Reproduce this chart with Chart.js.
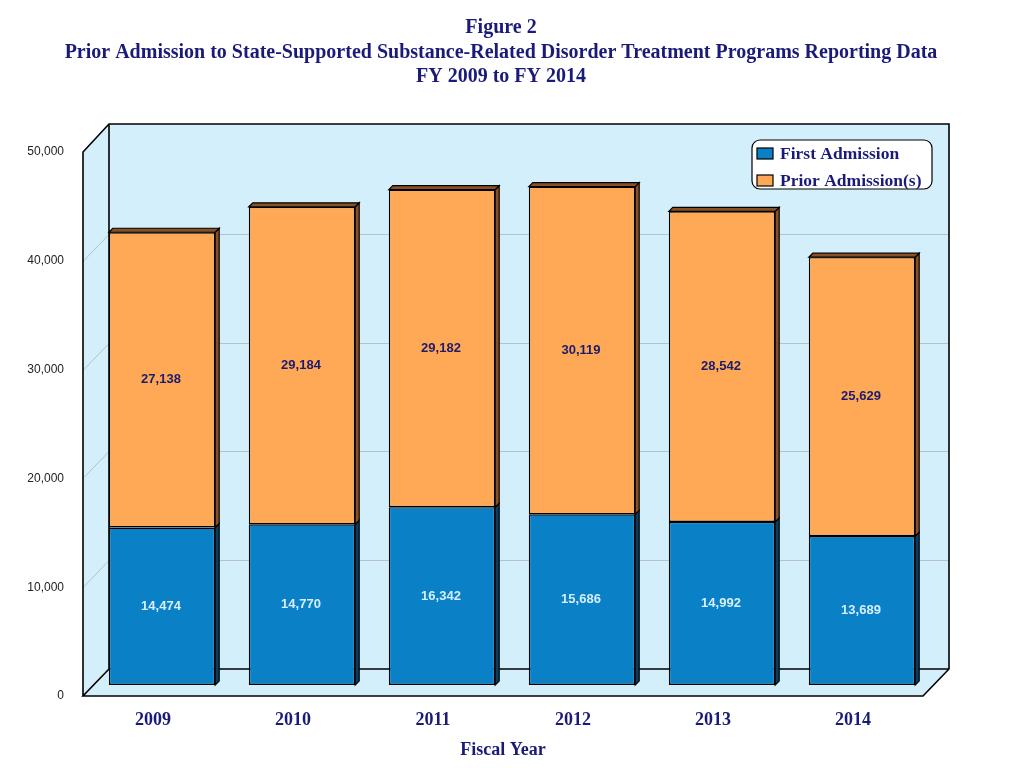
<!DOCTYPE html>
<html>
<head>
<meta charset="utf-8">
<script src="https://cdn.jsdelivr.net/npm/chart.js@4"></script>
<style>
html,body{margin:0;padding:0;background:#fff;}
#wrap{width:1024px;height:768px;}
</style>
</head>
<body>
<div id="wrap"><canvas id="c" width="1024" height="768"></canvas></div>
<script>
const categories = ['2009', '2010', '2011', '2012', '2013', '2014'];
const firstAdmission = [14474, 14770, 16342, 15686, 14992, 13689];
const priorAdmissions = [27138, 29184, 29182, 30119, 28542, 25629];
const seriesNames = ['First Admission', 'Prior Admission(s)'];
const titleLines = ['Figure 2', 'Prior Admission to State-Supported Substance-Related Disorder Treatment Programs Reporting Data', 'FY 2009 to FY 2014'];
const xTitle = 'Fiscal Year';

const NAVY = '#1a1a78';
const WALL = '#d4effc';
const BLUE = '#0a80c6';
const ORANGE = '#ffa855';
const SIDE = ['#0b3d5e', '#8a5024'];
const LABEL_COL = ['#d6eeff', '#1c1c6e'];
const DX = 26, DY = -27;       // depth of the 3-D box
const BX = 9, BY = -11;        // offset of the bar plane
const BD = 4;                  // depth of bars

const box3d = {
  id: 'box3d',
  beforeDatasetsDraw(chart) {
    const {ctx, chartArea: {left, right, top, bottom}, scales: {y}} = chart;
    ctx.save();
    ctx.fillStyle = WALL;
    ctx.beginPath();
    ctx.moveTo(left, top);
    ctx.lineTo(left + DX, top + DY - 1);
    ctx.lineTo(right + DX, top + DY - 1);
    ctx.lineTo(right + DX, bottom + DY);
    ctx.lineTo(right, bottom);
    ctx.lineTo(left, bottom);
    ctx.closePath();
    ctx.fill();
    ctx.strokeStyle = '#b4c2ca';
    ctx.lineWidth = 1;
    y.ticks.forEach(t => {
      if (t.value <= 0 || t.value >= 50000) return;
      const py = Math.round(y.getPixelForValue(t.value)) + 0.5;
      ctx.beginPath();
      ctx.moveTo(left, py);
      ctx.lineTo(left + DX, py + DY);
      ctx.lineTo(right + DX, py + DY);
      ctx.stroke();
    });
    ctx.strokeStyle = '#000';
    ctx.lineWidth = 1.6;
    ctx.beginPath();
    ctx.moveTo(left, bottom); ctx.lineTo(left, top); ctx.lineTo(left + DX, top + DY - 1);
    ctx.lineTo(right + DX, top + DY - 1); ctx.lineTo(right + DX, bottom + DY);
    ctx.lineTo(right, bottom); ctx.lineTo(left, bottom); ctx.lineTo(left + DX, bottom + DY);
    ctx.lineTo(right + DX, bottom + DY);
    ctx.moveTo(left + DX, bottom + DY); ctx.lineTo(left + DX, top + DY - 1);
    ctx.stroke();
    ctx.restore();
    ctx.save();
    ctx.translate(BX, BY);
  },
  afterDatasetsDraw(chart) {
    const ctx = chart.ctx;
    ctx.restore();
    ctx.save();
    const metas = chart.data.datasets.map((d, i) => chart.getDatasetMeta(i));
    metas.forEach((meta, di) => {
      meta.data.forEach(el => {
        const p = el.getProps(['x', 'y', 'base', 'width'], true);
        const x0 = p.x - p.width / 2 + BX, x1 = p.x + p.width / 2 + BX;
        const t = Math.min(p.y, p.base) + BY, b = Math.max(p.y, p.base) + BY;
        ctx.lineWidth = 1.2;
        ctx.strokeStyle = '#000';
        ctx.fillStyle = SIDE[di];
        ctx.beginPath();
        ctx.moveTo(x1, t); ctx.lineTo(x1 + BD, t - BD); ctx.lineTo(x1 + BD, b - BD); ctx.lineTo(x1, b);
        ctx.closePath(); ctx.fill(); ctx.stroke();
        if (di === metas.length - 1) {
          ctx.beginPath();
          ctx.moveTo(x0, t); ctx.lineTo(x0 + BD, t - BD); ctx.lineTo(x1 + BD, t - BD); ctx.lineTo(x1, t);
          ctx.closePath(); ctx.fill(); ctx.stroke();
        }
      });
    });
    ctx.font = 'bold 13px "Liberation Sans", Arial, sans-serif';
    ctx.textAlign = 'center';
    ctx.textBaseline = 'middle';
    metas.forEach((meta, di) => {
      const vals = chart.data.datasets[di].data;
      meta.data.forEach((el, i) => {
        const p = el.getProps(['x', 'y', 'base'], true);
        ctx.fillStyle = LABEL_COL[di];
        ctx.fillText(vals[i].toLocaleString('en-US'), p.x + BX - 1, (p.y + p.base) / 2 + BY);
      });
    });
    // legend
    const lx = 752, ly = 140, lw = 180, lh = 49;
    ctx.fillStyle = '#fff';
    ctx.strokeStyle = '#000';
    ctx.lineWidth = 1.2;
    ctx.beginPath();
    ctx.roundRect(lx, ly, lw, lh, 8);
    ctx.fill(); ctx.stroke();
    ctx.font = 'bold 17.5px "Liberation Serif", "Times New Roman", serif';
    ctx.textAlign = 'left';
    chart.data.datasets.forEach((ds, i) => {
      const cy = ly + 13 + i * 27;
      ctx.fillStyle = ds.backgroundColor;
      ctx.fillRect(757, cy - 5, 16, 11);
      ctx.strokeRect(757, cy - 5, 16, 11);
      ctx.fillStyle = NAVY;
      ctx.fillText(ds.label, 780, cy + 1);
    });
    // title
    ctx.font = 'bold 20px "Liberation Serif", "Times New Roman", serif';
    ctx.textAlign = 'center';
    ctx.fillStyle = NAVY;
    titleLines.forEach((s, i) => ctx.fillText(s, 501, 28 + i * 24.5));
    ctx.restore();
  }
};

new Chart(document.getElementById('c'), {
  type: 'bar',
  data: {
    labels: categories,
    datasets: [
      {label: seriesNames[0], data: firstAdmission, backgroundColor: BLUE, borderColor: '#000', borderWidth: 1.4, borderSkipped: false},
      {label: seriesNames[1], data: priorAdmissions, backgroundColor: ORANGE, borderColor: '#000', borderWidth: 1.4, borderSkipped: false}
    ]
  },
  options: {
    responsive: false,
    animation: false,
    layout: {padding: {top: 152, right: 101, left: 0, bottom: 7}},
    datasets: {bar: {categoryPercentage: 1, barPercentage: 0.76}},
    plugins: {legend: {display: false}, title: {display: false}, tooltip: {enabled: false}},
    scales: {
      x: {
        stacked: true,
        grid: {display: false, drawTicks: false},
        border: {display: false},
        ticks: {color: NAVY, font: {family: '"Liberation Serif", serif', size: 18, weight: 'bold'}, padding: 14},
        title: {display: true, text: xTitle, color: NAVY, font: {family: '"Liberation Serif", serif', size: 18, weight: 'bold'}, padding: {top: 2, bottom: 0}},
        afterFit(s) { s.height = 65; }
      },
      y: {
        stacked: true,
        min: 0, max: 50000,
        grid: {display: false, drawTicks: false},
        border: {display: false},
        ticks: {stepSize: 10000, color: '#222', font: {family: '"Liberation Sans", Arial, sans-serif', size: 12}, padding: 19},
        afterFit(s) { s.width = 83; }
      }
    }
  },
  plugins: [box3d]
});
</script>
</body>
</html>
